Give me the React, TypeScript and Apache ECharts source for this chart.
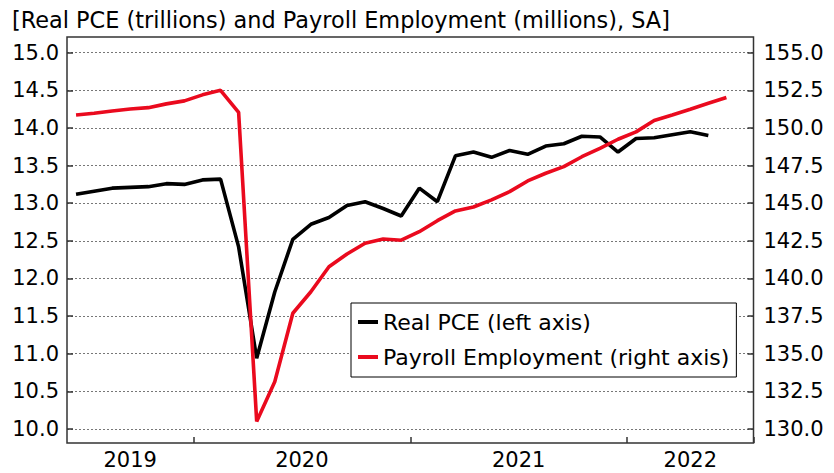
import { useEffect, useRef } from 'react';
import * as echarts from 'echarts';

const months = [
  '2019-06', '2019-07', '2019-08', '2019-09', '2019-10', '2019-11', '2019-12',
  '2020-01', '2020-02', '2020-03', '2020-04', '2020-05', '2020-06', '2020-07', '2020-08', '2020-09', '2020-10', '2020-11', '2020-12',
  '2021-01', '2021-02', '2021-03', '2021-04', '2021-05', '2021-06', '2021-07', '2021-08', '2021-09', '2021-10', '2021-11', '2021-12',
  '2022-01', '2022-02', '2022-03', '2022-04', '2022-05', '2022-06', '2022-07',
];

const realPCE = [
  13.12, 13.16, 13.2, 13.21, 13.22, 13.26, 13.25,
  13.31, 13.32, 12.42, 10.94, 11.82, 12.52, 12.72, 12.81, 12.97, 13.02, 12.93, 12.83,
  13.2, 13.02, 13.63, 13.68, 13.61, 13.7, 13.65, 13.76, 13.79, 13.89, 13.88, 13.68,
  13.86, 13.87, 13.91, 13.95, 13.9,
];

const payrolls = [
  150.86, 150.98, 151.13, 151.26, 151.35, 151.6, 151.8,
  152.2, 152.5, 151.04, 130.5, 133.14, 137.69, 139.12, 140.78, 141.63, 142.34, 142.62, 142.54,
  143.11, 143.84, 144.49, 144.75, 145.22, 145.77, 146.48, 146.99, 147.43, 148.09, 148.65, 149.25,
  149.74, 150.49, 150.86, 151.24, 151.64, 152.02,
];

const years = ['2019', '2020', '2021', '2022'];
const seriesNames = ['Real PCE (left axis)', 'Payroll Employment (right axis)'];
const titleText = '[Real PCE (trillions) and Payroll Employment (millions), SA]';

const FONT = 'DejaVu Sans';

export default function App() {
  const ref = useRef<HTMLDivElement>(null);
  useEffect(() => {
    const chart = echarts.init(ref.current!, null, { renderer: 'svg' });
    // center of each year's visible span, in month-band units
    const yearCenters: Record<string, number> = {};
    years.forEach((y) => {
      const idx = months.map((m, i) => (m.startsWith(y) ? i : -1)).filter((i) => i >= 0);
      yearCenters[y] = (idx[0] + idx[idx.length - 1] + 1) / 2;
    });
    chart.setOption({
      animation: false,
      backgroundColor: '#fff',
      title: {
        text: titleText,
        left: 12,
        top: 9,
        padding: 0,
        textStyle: { fontSize: 22.4, fontWeight: 'normal', fontFamily: FONT, color: '#000' },
      },
      grid: { left: 67, right: 80.5, top: 52.7, bottom: 44 },
      graphic: [
        {
          type: 'rect',
          shape: { x: 67, y: 37, width: 686.5, height: 406 },
          style: { fill: 'none', stroke: '#333', lineWidth: 1.5 },
          z: 100,
          silent: true,
        },
      ],
      legend: {
        left: 351,
        top: 303,
        orient: 'vertical',
        icon: 'rect',
        itemWidth: 20,
        itemHeight: 4,
        itemGap: 9,
        padding: [6, 7, 7, 7],
        borderColor: '#000',
        borderWidth: 1,
        backgroundColor: '#fff',
        textStyle: { fontSize: 22, fontFamily: FONT, color: '#000', lineHeight: 26 },
        data: seriesNames,
      },
      xAxis: [
        {
          type: 'category',
          data: months,
          boundaryGap: true,
          position: 'bottom',
          offset: 14,
          axisLine: { show: false },
          axisTick: {
            show: true,
            inside: true,
            length: 6,
            interval: (_i: number, v: string) => v.endsWith('-01'),
            lineStyle: { color: '#333', width: 1.5 },
          },
          axisLabel: { show: false },
          splitLine: { show: false },
        },
        {
          type: 'value',
          min: 0,
          max: months.length,
          interval: 0.5,
          position: 'bottom',
          offset: 14,
          axisLine: { show: false },
          axisTick: { show: false },
          splitLine: { show: false },
          axisLabel: {
            fontSize: 21,
            fontFamily: FONT,
            color: '#000',
            margin: 6,
            formatter: (v: number) => {
              const y = years.find((yy) => Math.abs(yearCenters[yy] - v) < 1e-6);
              return y || '';
            },
          },
        },
      ],
      yAxis: [
        {
          type: 'value',
          position: 'left',
          min: 10,
          max: 15,
          interval: 0.5,
          axisLine: { show: false },
          axisTick: { show: true, inside: true, length: 6, lineStyle: { color: '#333', width: 1.5 } },
          axisLabel: {
            fontSize: 21,
            fontFamily: FONT,
            color: '#000',
            margin: 8,
            formatter: (v: number) => v.toFixed(1),
          },
          splitLine: { show: true, lineStyle: { type: [2, 2], color: '#777', width: 1 } },
        },
        {
          type: 'value',
          position: 'right',
          min: 130,
          max: 155,
          interval: 2.5,
          axisLine: { show: false },
          axisTick: { show: true, inside: true, length: 6, lineStyle: { color: '#333', width: 1.5 } },
          axisLabel: {
            fontSize: 21,
            fontFamily: FONT,
            color: '#000',
            margin: 10,
            formatter: (v: number) => v.toFixed(1),
          },
          splitLine: { show: false },
        },
      ],
      series: [
        {
          name: seriesNames[0],
          type: 'line',
          xAxisIndex: 0,
          yAxisIndex: 0,
          data: realPCE,
          symbol: 'none',
          color: '#000',
          lineStyle: { width: 3.6, color: '#000' },
        },
        {
          name: seriesNames[1],
          type: 'line',
          xAxisIndex: 0,
          yAxisIndex: 1,
          data: payrolls,
          symbol: 'none',
          color: '#ea0a1e',
          lineStyle: { width: 3.6, color: '#ea0a1e' },
        },
      ],
    });
    return () => chart.dispose();
  }, []);
  return (
    <div
      ref={ref}
      style={{ position: 'fixed', left: 0, top: 0, width: 834, height: 473, background: '#fff' }}
    />
  );
}
